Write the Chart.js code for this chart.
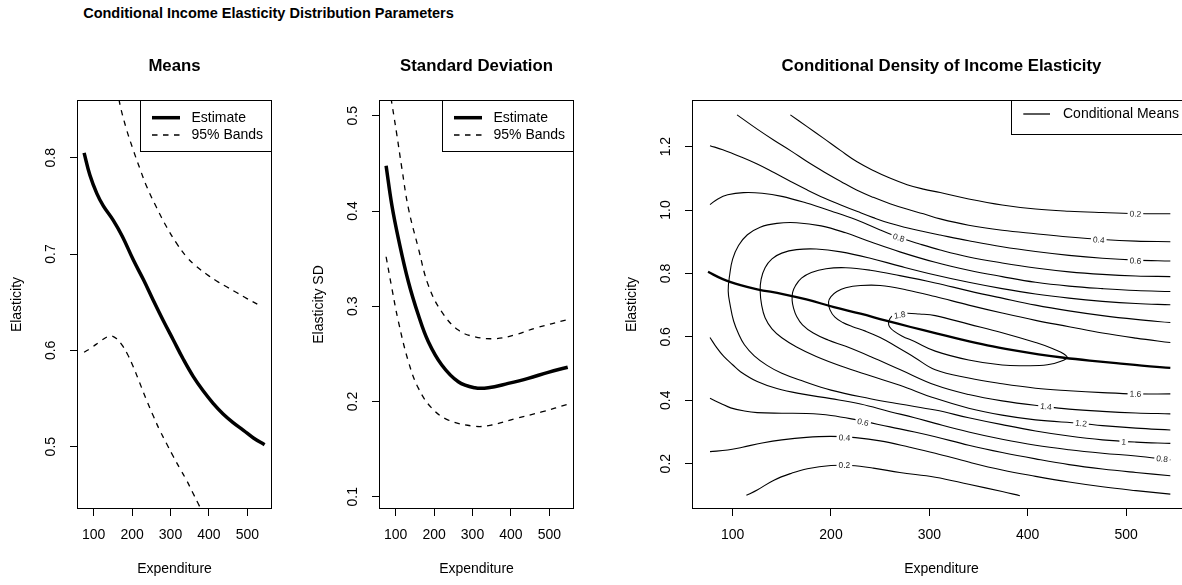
<!DOCTYPE html>
<html>
<head>
<meta charset="utf-8">
<title>Conditional Income Elasticity Distribution Parameters</title>
<script src="https://cdn.jsdelivr.net/npm/chart.js@4.4.1/dist/chart.umd.min.js"></script>
<style>
  html, body { margin: 0; padding: 0; background: #fff; overflow: hidden; }
  body { position: relative; width: 1182px; height: 585px; font-family: 'Liberation Sans', Arial, Helvetica, sans-serif; }
  canvas { position: absolute; top: 0; }
  #c1 { left: 0; }
  #c2 { left: 302px; }
  #c3 { left: 615px; }
  h1 { position: absolute; margin: 0; left: 0; top: 6px; width: 537px; text-align: center;
       font-size: 14.5px; line-height: 14px; font-weight: bold; color: #000; }
</style>
</head>
<body>
<h1>Conditional Income Elasticity Distribution Parameters</h1>
<canvas id="c1" width="290" height="585"></canvas>
<canvas id="c2" width="290" height="585"></canvas>
<canvas id="c3" width="600" height="585"></canvas>
<script>
const FONT = "'Liberation Sans', Arial, Helvetica, sans-serif";

// conditional mean of the elasticity and its 95% bands
const meanX = [75, 90, 108, 125, 151, 175, 203, 230, 255, 281, 307, 333, 359, 385, 411, 437, 463, 490, 516, 545];
const meanY = [0.805, 0.782, 0.763, 0.750, 0.735, 0.718, 0.694, 0.673, 0.652, 0.631, 0.611, 0.591, 0.573, 0.558, 0.545, 0.534, 0.525, 0.517, 0.509, 0.502];
const meanUpperX = [162, 168, 185, 203, 220, 238, 264, 290, 316, 342, 368, 394, 420, 446, 472, 498, 526];
const meanUpperY = [0.872, 0.856, 0.830, 0.808, 0.789, 0.770, 0.748, 0.728, 0.711, 0.697, 0.687, 0.679, 0.672, 0.666, 0.660, 0.654, 0.648];
const meanLowerX = [75, 95, 116, 135, 147, 160, 173, 188, 203, 220, 238, 255, 272, 290, 307, 325, 342, 357, 372, 388];
const meanLowerY = [0.598, 0.603, 0.609, 0.614, 0.615, 0.612, 0.606, 0.596, 0.583, 0.566, 0.548, 0.532, 0.517, 0.503, 0.490, 0.477, 0.465, 0.453, 0.441, 0.428];

// standard deviation of the elasticity and its 95% bands
const sdX = [75, 90, 107, 133, 159, 185, 220, 263, 306, 341, 393, 445, 497, 548];
const sdY = [0.4475, 0.406, 0.371, 0.3257, 0.2908, 0.2627, 0.2383, 0.2207, 0.2144, 0.2144, 0.219, 0.2243, 0.2306, 0.236];
const sdUpperX = [83, 90, 103, 116, 133, 159, 185, 220, 263, 306, 359, 411, 463, 548];
const sdUpperY = [0.530, 0.513, 0.480, 0.445, 0.403, 0.361, 0.322, 0.294, 0.275, 0.268, 0.266, 0.270, 0.277, 0.286];
const sdLowerX = [75, 90, 107, 133, 159, 194, 237, 306, 350, 411, 480, 548];
const sdLowerY = [0.352, 0.319, 0.284, 0.242, 0.214, 0.193, 0.1805, 0.174, 0.1753, 0.182, 0.189, 0.197];

// density contours, [expenditure, elasticity]
const contour02Upper = [[158.7,1.30],[175.7,1.263],[192.6,1.226],[209.6,1.188],[226.5,1.152],[243.5,1.124],[260.4,1.10],[277.4,1.08],[294,1.066],[311,1.055],[340,1.035],[374,1.016],[408,1.003],[442,0.996],[476,0.992],[510,0.989],[545,0.988]];
const contour04Upper = [[104.5,1.30],[125,1.255],[142,1.22],[160,1.185],[176,1.152],[193,1.12],[210,1.09],[226,1.063],[243,1.04],[260,1.02],[277,1.003],[294,0.988],[311,0.972],[340,0.952],[374,0.936],[408,0.925],[442,0.915],[476,0.907],[510,0.902],[545,0.900]];
const contour06Upper = [[77,1.203],[90,1.19],[108,1.168],[125,1.145],[142,1.118],[159,1.09],[176,1.063],[193,1.038],[210,1.016],[227,0.995],[243,0.976],[260,0.958],[277,0.944],[294,0.932],[311,0.921],[340,0.903],[374,0.884],[408,0.869],[442,0.857],[476,0.848],[510,0.842],[545,0.839]];
const contour08Upper = [[77,1.017],[85,1.035],[95,1.048],[111,1.055],[130,1.053],[150,1.043],[175,1.022],[200,0.997],[225,0.97],[250,0.937],[269,0.914],[290,0.893],[311,0.874],[340,0.852],[374,0.833],[408,0.817],[442,0.805],[476,0.797],[510,0.792],[545,0.790]];
const contour10 = [[545,0.743],[510,0.746],[476,0.752],[442,0.76],[408,0.772],[374,0.79],[340,0.81],[306,0.835],[270,0.868],[240,0.90],[215,0.928],[190,0.950],[165,0.960],[145,0.958],[128,0.946],[115,0.922],[106,0.888],[100,0.845],[97,0.795],[95.5,0.745],[97.5,0.70],[101,0.65],[106,0.61],[112,0.575],[122,0.54],[135,0.51],[150,0.485],[170,0.462],[200,0.432],[240,0.405],[270,0.388],[306,0.369],[340,0.345],[374,0.323],[408,0.303],[442,0.287],[476,0.275],[510,0.268],[545,0.264]];
const contour12 = [[545,0.701],[510,0.705],[476,0.712],[442,0.722],[408,0.735],[374,0.752],[340,0.772],[306,0.795],[270,0.823],[240,0.848],[210,0.868],[185,0.877],[165,0.875],[150,0.864],[140,0.846],[133,0.818],[129,0.782],[128,0.745],[129.5,0.70],[133,0.66],[140,0.625],[150,0.597],[165,0.568],[185,0.538],[210,0.508],[240,0.477],[270,0.447],[306,0.406],[340,0.375],[374,0.353],[408,0.338],[454,0.327],[476,0.32],[510,0.312],[545,0.306]];
const contour14 = [[545,0.645],[510,0.655],[476,0.667],[442,0.682],[408,0.700],[374,0.722],[340,0.745],[306,0.770],[270,0.793],[240,0.810],[215,0.818],[195,0.815],[180,0.803],[170,0.785],[164,0.762],[161,0.74],[160.5,0.715],[162,0.69],[165,0.665],[171,0.638],[182,0.612],[197,0.590],[215,0.570],[240,0.538],[270,0.497],[306,0.448],[340,0.418],[374,0.398],[418,0.380],[442,0.372],[476,0.365],[510,0.36],[545,0.357]];
const contour16 = [[545,0.582],[510,0.596],[476,0.612],[442,0.632],[408,0.652],[374,0.675],[340,0.700],[306,0.727],[277,0.748],[250,0.762],[230,0.762],[215,0.755],[206,0.743],[200,0.727],[197.5,0.71],[199,0.685],[204,0.662],[212,0.645],[222,0.632],[235,0.618],[250,0.598],[265,0.572],[285,0.535],[306,0.496],[340,0.47],[374,0.452],[408,0.438],[442,0.430],[476,0.424],[510,0.420],[545,0.420]];
const contour18 = [[263,0.668],[275,0.674],[290,0.672],[306,0.667],[340,0.640],[374,0.613],[408,0.582],[425,0.563],[440,0.537],[433,0.522],[420,0.512],[400,0.509],[374,0.511],[340,0.527],[306,0.555],[285,0.585],[272,0.603],[264,0.618],[259.5,0.632],[258.5,0.645],[260,0.658],[263,0.668]];
const contour08Lower = [[77,0.598],[84,0.565],[91,0.538],[100,0.512],[108,0.49],[125,0.459],[145,0.437],[170,0.42],[200,0.405],[230,0.388],[260,0.364],[285,0.345],[306,0.327],[340,0.3],[374,0.277],[408,0.258],[442,0.244],[476,0.233],[510,0.224],[545,0.212]];
const contour06Lower = [[77,0.406],[88,0.39],[98,0.376],[112,0.366],[125,0.361],[150,0.359],[175,0.358],[200,0.352],[226,0.338],[260,0.316],[285,0.3],[306,0.285],[340,0.258],[374,0.235],[408,0.215],[442,0.197],[476,0.183],[510,0.172],[545,0.162]];
const contour04Lower = [[77,0.238],[95,0.243],[110,0.252],[130,0.265],[150,0.275],[175,0.283],[200,0.286],[225,0.282],[250,0.272],[280,0.252],[306,0.233],[340,0.205],[374,0.18],[408,0.16],[442,0.142],[476,0.127],[510,0.115],[545,0.104]];
const contour02Lower = [[114,0.100],[125,0.117],[142,0.148],[160,0.170],[176,0.184],[200,0.194],[220,0.194],[243,0.186],[270,0.172],[306,0.157],[340,0.135],[374,0.112],[392,0.099]];

// contour level labels
const labelText = ['0.2', '0.4', '0.6', '0.8', '1.8', '1.6', '1.4', '1.2', '1', '0.8', '0.6', '0.4', '0.2'];
const labelX = [509.5, 472.2, 509.5, 268.9, 269.9, 509.5, 418.6, 454.2, 497.6, 536.6, 232.6, 213.6, 213.6];
const labelY = [0.988, 0.906, 0.840, 0.913, 0.669, 0.420, 0.380, 0.327, 0.269, 0.215, 0.331, 0.282, 0.194];

// tick values
const expTicks = [100, 200, 300, 400, 500];
const meanTicks = [0.5, 0.6, 0.7, 0.8];
const sdTicks = [0.1, 0.2, 0.3, 0.4, 0.5];
const densTicks = [0.2, 0.4, 0.6, 0.8, 1.0, 1.2];

function series(xs, ys, width, dash) {
    return {
        data: xs.map((x, i) => ({ x: x, y: ys[i] })),
        borderColor: '#000', borderWidth: width, borderDash: dash || [],
        pointRadius: 0, showLine: true, fill: false, tension: 0.4, clip: 0
    };
}

function contour(pairs) {
    const ds = series(pairs.map(p => p[0]), pairs.map(p => p[1]), 1.1);
    ds.contour = true;
    return ds;
}

function axes(xMin, xMax, yMin, yMax, yTicks, yTitle) {
    const font = { family: FONT, size: 14, lineHeight: 1.2 };
    const grid = { drawOnChartArea: false, drawTicks: true, tickLength: 7, color: '#000', lineWidth: 1 };
    return {
        x: {
            type: 'linear', min: xMin, max: xMax, grid: grid, border: { display: false },
            afterBuildTicks: s => { s.ticks = expTicks.map(v => ({ value: v })); },
            afterFit: s => { s.height = 76; },
            ticks: { font: font, color: '#000', padding: 10.6, maxRotation: 0, autoSkip: false, callback: v => String(v) },
            title: { display: true, text: 'Expenditure', font: font, color: '#000', padding: { top: 0, bottom: 7.6 } }
        },
        y: {
            type: 'linear', min: yMin, max: yMax, grid: grid, border: { display: false },
            afterBuildTicks: s => { s.ticks = yTicks.map(v => ({ value: v })); },
            afterFit: s => { s.width = 77; },
            ticks: { font: font, color: '#000', padding: 8.8, minRotation: 90, maxRotation: 90, crossAlign: 'center', autoSkip: false, callback: v => v.toFixed(1) },
            title: { display: true, text: yTitle, font: font, color: '#000', padding: { top: 9.1, bottom: 0 } }
        }
    };
}

// panel title, legend and the box round the plot
const framePlugin = {
    id: 'frame',
    afterDraw(chart, args, opts) {
        const ctx = chart.ctx;
        const a = chart.chartArea;
        ctx.save();
        ctx.fillStyle = '#000';
        ctx.font = 'bold 16.8px ' + FONT;
        ctx.textAlign = 'center';
        ctx.textBaseline = 'middle';
        ctx.fillText(opts.title, (a.left + a.right) / 2, 66);

        const L = opts.legend;
        if (L) {
            const bx = Math.round(a.right - L.w), by = Math.round(a.top);
            ctx.fillStyle = '#fff';
            ctx.fillRect(bx, by, L.w, L.h);
            ctx.strokeStyle = '#000';
            ctx.lineWidth = 1;
            ctx.strokeRect(bx + 0.5, by + 0.5, L.w - 1, L.h - 1);
            ctx.font = '14px ' + FONT;
            ctx.textAlign = 'left';
            ctx.fillStyle = '#000';
            L.items.forEach((it, i) => {
                const yy = by + L.rows[i];
                ctx.beginPath();
                ctx.lineWidth = it.width;
                ctx.setLineDash(it.dash || []);
                ctx.moveTo(bx + L.x0, yy);
                ctx.lineTo(bx + L.x1, yy);
                ctx.stroke();
                ctx.setLineDash([]);
                ctx.fillText(it.label, bx + L.tx, yy);
            });
        }

        ctx.strokeStyle = '#000';
        ctx.lineWidth = 1;
        ctx.strokeRect(Math.round(a.left) + 0.5, Math.round(a.top) + 0.5,
            Math.round(a.right - a.left) - 1, Math.round(a.bottom - a.top) - 1);
        ctx.restore();
    }
};

function lineAngle(chart, px, py) {
    let best = Infinity, ang = 0;
    chart.data.datasets.forEach((ds, di) => {
        if (!ds.contour) return;
        const pts = chart.getDatasetMeta(di).data;
        for (let k = 0; k < pts.length - 1; k++) {
            const p = pts[k], q = pts[k + 1];
            const dx = q.x - p.x, dy = q.y - p.y;
            const len2 = dx * dx + dy * dy || 1;
            let t = ((px - p.x) * dx + (py - p.y) * dy) / len2;
            t = Math.max(0, Math.min(1, t));
            const d = Math.hypot(px - (p.x + t * dx), py - (p.y + t * dy));
            if (d < best) { best = d; ang = Math.atan2(dy, dx); }
        }
    });
    if (ang > Math.PI / 2) ang -= Math.PI;
    if (ang < -Math.PI / 2) ang += Math.PI;
    return ang;
}

const contourLabelPlugin = {
    id: 'contourLabels',
    afterDatasetsDraw(chart) {
        const ctx = chart.ctx;
        const xs = chart.scales.x, ys = chart.scales.y;
        ctx.save();
        ctx.font = '8.4px ' + FONT;
        ctx.textAlign = 'center';
        ctx.textBaseline = 'middle';
        labelText.forEach((t, i) => {
            const px = xs.getPixelForValue(labelX[i]);
            const py = ys.getPixelForValue(labelY[i]);
            const w = ctx.measureText(t).width + 4;
            ctx.save();
            ctx.translate(px, py);
            ctx.rotate(lineAngle(chart, px, py));
            ctx.fillStyle = '#fff';
            ctx.fillRect(-w / 2, -3.5, w, 7);
            ctx.fillStyle = '#222';
            ctx.fillText(t, 0, 0.5);
            ctx.restore();
        });
        ctx.restore();
    }
};

function baseOptions(scales, frame, rightPad) {
    return {
        responsive: false, animation: false, devicePixelRatio: 1, events: [],
        layout: { padding: { top: 100, right: rightPad, left: 0, bottom: 0 } },
        scales: scales,
        plugins: { legend: { display: false }, tooltip: { enabled: false }, frame: frame }
    };
}

const bandLegend = {
    w: 132, h: 52, x0: 12, x1: 40, tx: 51.5, rows: [17.7, 35],
    items: [{ label: 'Estimate', width: 3.5 }, { label: '95% Bands', width: 1.3, dash: [5.5, 5.5] }]
};

new Chart(document.getElementById('c1'), {
    type: 'scatter',
    data: {
        datasets: [
            series(meanX, meanY, 3.5),
            series(meanUpperX, meanUpperY, 1.3, [5.5, 5.5]),
            series(meanLowerX, meanLowerY, 1.3, [5.5, 5.5])
        ]
    },
    options: baseOptions(axes(56.5, 564.3, 0.4353, 0.8599, meanTicks, 'Elasticity'),
        { title: 'Means', legend: bandLegend }, 18),
    plugins: [framePlugin]
});

new Chart(document.getElementById('c2'), {
    type: 'scatter',
    data: {
        datasets: [
            series(sdX, sdY, 3.5),
            series(sdUpperX, sdUpperY, 1.3, [5.5, 5.5]),
            series(sdLowerX, sdLowerY, 1.3, [5.5, 5.5])
        ]
    },
    options: baseOptions(axes(56.5, 564.3, 0.0871, 0.5166, sdTicks, 'Elasticity SD'),
        { title: 'Standard Deviation', legend: bandLegend }, 18),
    plugins: [framePlugin]
});

new Chart(document.getElementById('c3'), {
    type: 'scatter',
    data: {
        datasets: [
            series(meanX, meanY, 2.3),
            contour(contour02Upper), contour(contour04Upper), contour(contour06Upper), contour(contour08Upper),
            contour(contour10), contour(contour12), contour(contour14), contour(contour16), contour(contour18),
            contour(contour08Lower), contour(contour06Lower), contour(contour04Lower), contour(contour02Lower)
        ]
    },
    options: baseOptions(axes(58.7, 566, 0.057, 1.347, densTicks, 'Elasticity'),
        {
            title: 'Conditional Density of Income Elasticity',
            legend: { w: 180, h: 35, x0: 12.3, x1: 39, tx: 52, rows: [14], items: [{ label: 'Conditional Means', width: 1.3 }] }
        }, 24),
    plugins: [contourLabelPlugin, framePlugin]
});
</script>
</body>
</html>
